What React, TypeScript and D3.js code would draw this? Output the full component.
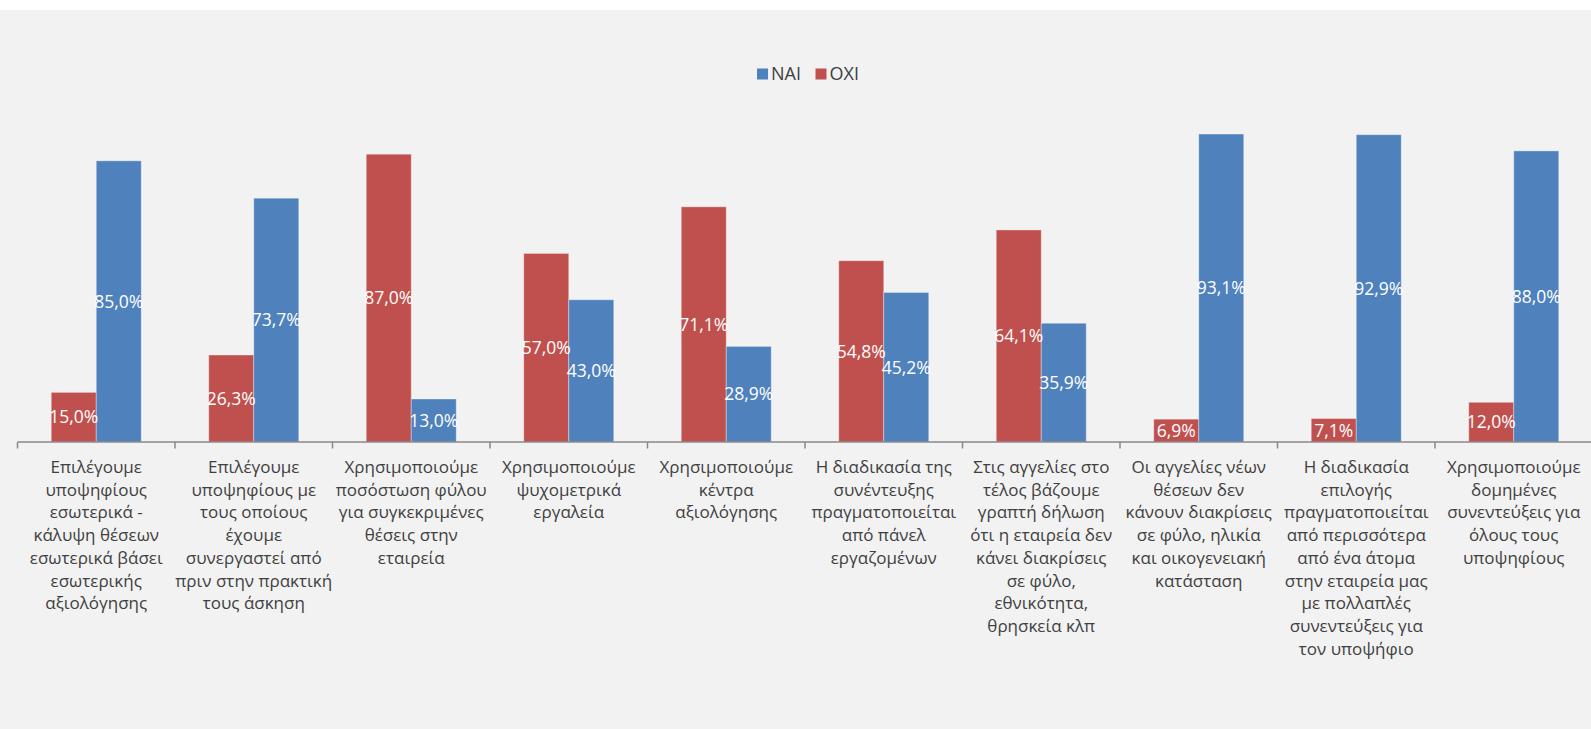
import React from "react";
import * as d3 from "d3";

// Survey items (x-axis categories), pre-broken into display lines
const categories: string[][] = [
  ["Επιλέγουμε", "υποψηφίους", "εσωτερικά -", "κάλυψη θέσεων", "εσωτερικά βάσει", "εσωτερικής", "αξιολόγησης"],
  ["Επιλέγουμε", "υποψηφίους με", "τους οποίους", "έχουμε", "συνεργαστεί από", "πριν στην πρακτική", "τους άσκηση"],
  ["Χρησιμοποιούμε", "ποσόστωση φύλου", "για συγκεκριμένες", "θέσεις στην", "εταιρεία"],
  ["Χρησιμοποιούμε", "ψυχομετρικά", "εργαλεία"],
  ["Χρησιμοποιούμε", "κέντρα", "αξιολόγησης"],
  ["Η διαδικασία της", "συνέντευξης", "πραγματοποιείται", "από πάνελ", "εργαζομένων"],
  ["Στις αγγελίες στο", "τέλος βάζουμε", "γραπτή δήλωση", "ότι η εταιρεία δεν", "κάνει διακρίσεις", "σε φύλο,", "εθνικότητα,", "θρησκεία κλπ"],
  ["Οι αγγελίες νέων", "θέσεων δεν", "κάνουν διακρίσεις", "σε φύλο, ηλικία", "και οικογενειακή", "κατάσταση"],
  ["Η διαδικασία", "επιλογής", "πραγματοποιείται", "από περισσότερα", "από ένα άτομα", "στην εταιρεία μας", "με πολλαπλές", "συνεντεύξεις για", "τον υποψήφιο"],
  ["Χρησιμοποιούμε", "δομημένες", "συνεντεύξεις για", "όλους τους", "υποψηφίους"],
];

const naiValues: number[] = [85.0, 73.7, 13.0, 43.0, 28.9, 45.2, 35.9, 93.1, 92.9, 88.0];
const oxiValues: number[] = [15.0, 26.3, 87.0, 57.0, 71.1, 54.8, 64.1, 6.9, 7.1, 12.0];

const seriesNames: string[] = ["NAI", "OXI"];
const seriesColors: Record<string, string> = { NAI: "#4f81bd", OXI: "#c0504d" };
// drawing order inside each group: OXI on the left, NAI on the right
const barOrder: string[] = ["OXI", "NAI"];

const W = 1591;
const H = 729;
const FONT = "'Open Sans', 'DejaVu Sans', sans-serif";

const pct = d3.formatLocale({ decimal: ",", thousands: ".", grouping: [3], currency: ["", "€"] }).format(".1f");

export default function App() {
  const axisLeft = 17.5;
  const step = 157.5;
  const baseY = 442;

  const idx = categories.map((_, i) => String(i));
  const x0 = d3.scaleBand<string>().domain(idx).range([axisLeft, axisLeft + step * categories.length]).padding(0);
  const x1 = d3.scaleBand<string>().domain(barOrder).range([0, x0.bandwidth()]).paddingInner(0).paddingOuter(0.75);
  const y = d3.scaleLinear().domain([0, 100]).range([baseY, baseY - 330.8]);

  const rows = categories.map((_, i) => ({ i: String(i), NAI: naiValues[i], OXI: oxiValues[i] }));

  return (
    <svg width={W} height={H} style={{ position: "absolute", left: 0, top: 0, display: "block" }}>
      <rect x={0} y={0} width={W} height={H} fill="#ffffff" />
      <rect x={0} y={10} width={W} height={H - 10} fill="#f2f2f2" />

      {/* legend */}
      <g fontFamily={FONT} fontSize={18} fill="#404040">
        {seriesNames.map((s, k) => {
          const lx = 757 + k * 58.5;
          return (
            <g key={s}>
              <rect x={lx} y={68.5} width={11} height={11} fill={seriesColors[s]} />
              <text x={lx + 14} y={80}>{s}</text>
            </g>
          );
        })}
      </g>

      {/* bars */}
      {rows.map((r) => (
        <g key={r.i} transform={`translate(${x0(r.i)},0)`}>
          {barOrder.map((s) => {
            const v = (r as any)[s] as number;
            return (
              <rect
                key={s}
                x={x1(s)}
                y={y(v)}
                width={x1.bandwidth()}
                height={baseY - y(v)}
                fill={seriesColors[s]}
                stroke="rgba(255,255,255,0.35)"
                strokeWidth={1}
              />
            );
          })}
        </g>
      ))}

      {/* value labels, centred in each bar */}
      <g fontFamily={FONT} fontSize={17.5} fill="#ffffff" textAnchor="middle">
        {rows.map((r) =>
          barOrder.map((s) => {
            const v = (r as any)[s] as number;
            const cx = (x0(r.i) as number) + (x1(s) as number) + x1.bandwidth() / 2;
            const cy = (y(v) + baseY) / 2;
            return (
              <text key={r.i + s} x={cx} y={cy} dy="0.36em">
                {pct(v)}%
              </text>
            );
          })
        )}
      </g>

      {/* category axis */}
      <g stroke="#898989" strokeWidth={1.5} fill="none">
        <line x1={axisLeft} x2={axisLeft + step * categories.length} y1={baseY} y2={baseY} />
        {d3.range(categories.length + 1).map((k) => {
          const tx = axisLeft + step * k;
          return <line key={k} x1={tx} x2={tx} y1={baseY} y2={baseY + 6.5} />;
        })}
      </g>

      <g fontFamily={FONT} fontSize={17} fill="#404040" textAnchor="middle">
        {categories.map((lines, i) => {
          const cx = (x0(String(i)) as number) + x0.bandwidth() / 2;
          return (
            <text key={i} x={cx} y={473}>
              {lines.map((ln, j) => (
                <tspan key={j} x={cx} y={473 + j * 22.7}>
                  {ln}
                </tspan>
              ))}
            </text>
          );
        })}
      </g>
    </svg>
  );
}
